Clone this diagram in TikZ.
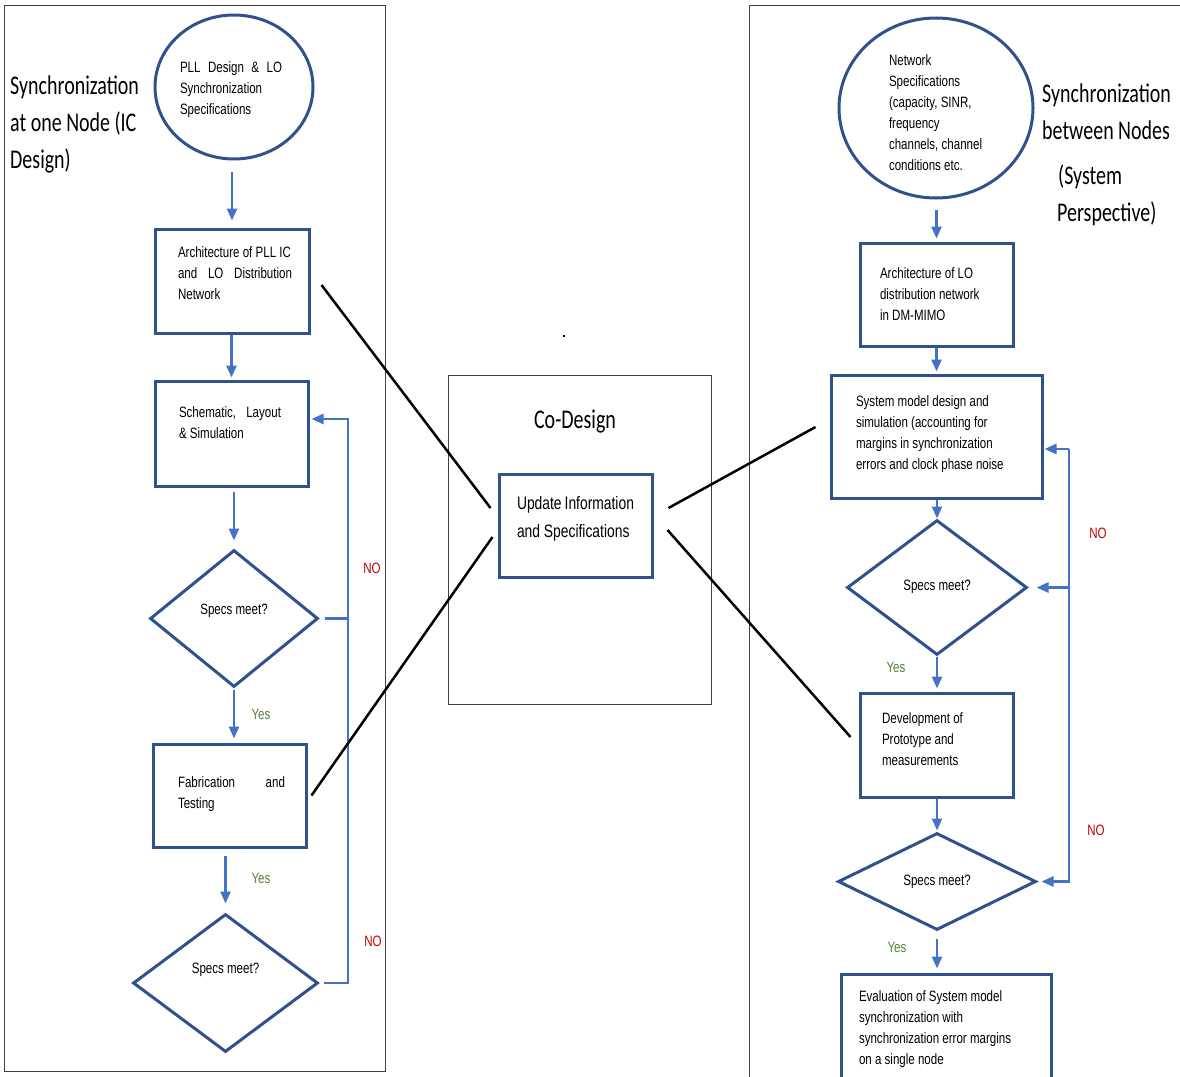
\documentclass[tikz,border=0pt]{standalone}
\usepackage{fontspec}
\setmainfont{Liberation Sans}[FakeStretch=0.77]
\newfontfamily\titlefont{Carlito}[FakeStretch=0.74]
\usetikzlibrary{shapes.geometric,arrows.meta}
\definecolor{boxblue}{HTML}{2F528F}
\definecolor{arrowblue}{HTML}{4472C4}
\definecolor{yesgreen}{HTML}{548235}
\definecolor{nored}{HTML}{C00000}
\definecolor{framegray}{HTML}{404040}
\newcommand{\boxtext}[3]{\parbox[c][#1pt][t]{#2pt}{\raggedright #3}}
\tikzset{
  procbox/.style={draw=boxblue, line width=3pt, rectangle, inner sep=0pt},
  specell/.style={draw=boxblue, line width=3pt, ellipse, inner sep=0pt},
  decision/.style={draw=boxblue, line width=3pt, diamond, inner sep=0pt},
  flow/.style={draw=arrowblue, line width=2.5pt},
  link/.style={draw=black, line width=2.5pt},
  frame/.style={draw=framegray, line width=1pt},
  yeslbl/.style={text=yesgreen, font=\fontsize{15}{18}\selectfont},
  nolbl/.style={text=nored, font=\fontsize{15}{18}\selectfont},
  heading/.style={font=\titlefont\fontsize{27}{37}\selectfont, align=left, inner sep=0pt}
}

\begin{document}
\begin{tikzpicture}[x=1pt,y=-1pt,>={Triangle[length=12pt,width=10pt]},
  every node/.append style={font=\fontsize{15}{21}\selectfont}]
  \useasboundingbox (0,0) rectangle (1180,1076);
  \clip (0,0) rectangle (1180,1076);
  \draw[frame] (4,5) rectangle (385,1071);
  \draw[frame] (749,1090) -- (749,5) -- (1190,5);
  \draw[frame] (448,375) rectangle (711,704);
  \fill (563,335) rectangle (565,337);

  \node[heading, anchor=north west] (lefttitle) at (10,76) {Synchronization\\at one Node (IC\\Design)};
  \node[heading, anchor=north west] (righttitle) at (1042,84) {Synchronization\\between Nodes\\[8pt]\hspace*{16pt}(System\\\hspace*{15pt}Perspective)};
  \node[heading] (cotitle) at (575,422) {Co-Design};

  \node[specell, minimum width=158, minimum height=144] (pllspec) at (234,87)
    {\boxtext{51}{108}{\makebox[102pt][s]{PLL Design \& LO}\\Synchronization\\Specifications}};
  \node[procbox, minimum width=154, minimum height=104] (pllarch) at (232,281)
    {\boxtext{68}{108}{\makebox[114pt][l]{Architecture of PLL IC}\\\makebox[114pt][s]{and LO Distribution}\\Network}};
  \node[procbox, minimum width=153, minimum height=105] (schem) at (231.5,433.5)
    {\boxtext{54}{105}{\makebox[102pt][s]{Schematic, Layout}\\\&~Simulation}};
  \node[decision, minimum width=168, minimum height=137, text depth=19pt] (icspecs1) at (234,618.5) {Specs meet?};
  \node[procbox, minimum width=153, minimum height=103] (fab) at (229.5,795.5)
    {\boxtext{38}{103}{\makebox[107pt][s]{Fabrication and}\\Testing}};
  \node[decision, minimum width=185, minimum height=138, text depth=30pt] (icspecs2) at (225.5,983) {Specs meet?};

  \node[procbox, minimum width=153, minimum height=103] (update) at (575.5,525.5)
    {\fontsize{18}{28}\selectfont\boxtext{59}{117}{Update~Information\\and~Specifications}};

  \node[specell, minimum width=194, minimum height=180] (netspec) at (936,108)
    {\boxtext{107}{94}{Network\\Specifications\\(capacity,~SINR,\\frequency\\channels,~channel\\conditions~etc.}};
  \node[procbox, minimum width=153, minimum height=103] (loarch) at (936.5,294.5)
    {\boxtext{54}{113}{Architecture~of~LO\\distribution~network\\in~DM-MIMO}};
  \node[procbox, minimum width=211, minimum height=123] (sysmodel) at (936.5,436.5)
    {\boxtext{82}{161}{System~model~design~and\\simulation~(accounting~for\\margins~in~synchronization\\errors~and~clock~phase~noise}};
  \node[decision, minimum width=180, minimum height=135, text depth=5pt] (sysspecs1) at (937,587.5) {Specs meet?};
  \node[procbox, minimum width=153, minimum height=104] (proto) at (936.5,745)
    {\boxtext{65}{109}{Development~of\\Prototype~and\\measurements}};
  \node[decision, minimum width=198, minimum height=97] (sysspecs2) at (937,881.5) {Specs meet?};
  \node[procbox, minimum width=210, minimum height=108] (evalsys) at (946,1028)
    {\boxtext{75}{174}{Evaluation~of~System~model\\synchronization~with\\synchronization~error~margins\\on~a~single~node}};

  \draw[flow,->,shorten <=11pt,shorten >=7pt] (pllarch.north |- pllspec.south) -- (pllarch.north);
  \draw[flow,->,shorten >=2pt] (schem.north |- pllarch.south) -- (schem.north);
  \draw[flow,->,shorten <=4pt,shorten >=8pt] (icspecs1.north |- schem.south) -- (icspecs1.north);
  \draw[flow,->,shorten <=1pt,shorten >=4pt] (icspecs1.south) -- (icspecs1.south |- fab.north);
  \draw[flow,->,shorten <=7pt,shorten >=9pt] (icspecs2.north |- fab.south) -- (icspecs2.north);
  \coordinate (icloop) at (348,419);
  \draw[flow,->,shorten >=2pt] ([xshift=4pt]icspecs2.east) -| (icloop) -- (icloop -| schem.east);
  \draw[flow] ([xshift=5pt]icspecs1.east) -- (icspecs1.east -| icloop);

  \draw[flow,->,shorten <=10pt,shorten >=3pt] (loarch.north |- netspec.south) -- (loarch.north);
  \draw[flow,->,shorten >=2pt] (sysmodel.north |- loarch.south) -- (sysmodel.north);
  \draw[flow,->] (sysspecs1.north |- sysmodel.south) -- (sysspecs1.north);
  \draw[flow,->,shorten >=3pt] (sysspecs1.south) -- (sysspecs1.south |- proto.north);
  \draw[flow,->,shorten >=1pt] (sysspecs2.north |- proto.south) -- (sysspecs2.north);
  \draw[flow,->,shorten <=7pt,shorten >=4pt] (sysspecs2.south) -- (sysspecs2.south |- evalsys.north);
  \coordinate (sysloop) at (1069,449);
  \draw[flow,->,shorten >=1pt] (sysloop) -- (sysloop -| sysmodel.east);
  \draw[flow,->,shorten >=4pt] (sysloop) |- (sysspecs2.east);
  \draw[flow,->,shorten >=8pt] (sysspecs1.east -| sysloop) -- (sysspecs1.east);

  \draw[link] ([xshift=11pt,yshift=-4pt]pllarch.east) -- ([xshift=-7pt,yshift=17.5pt]update.west);
  \draw[link] ([xshift=4pt]fab.east) -- ([xshift=-5pt,yshift=-11.5pt]update.west);
  \draw[link] ([xshift=15pt,yshift=17.5pt]update.east) -- ([xshift=-14pt,yshift=9.5pt]sysmodel.west);
  \draw[link] ([xshift=14pt,yshift=-4.5pt]update.east) -- ([xshift=-8pt,yshift=8pt]proto.west);

  \foreach \x/\y/\nm in {261/714/icyes1, 261/878/icyes2, 896/667/sysyes1, 897/947/sysyes2}
    \node[yeslbl] (\nm) at (\x,\y) {Yes};
  \foreach \x/\y/\nm in {372/568/icno1, 373/941/icno2, 1098/533/sysno1, 1096/830/sysno2}
    \node[nolbl] (\nm) at (\x,\y) {NO};
\end{tikzpicture}
\end{document}
